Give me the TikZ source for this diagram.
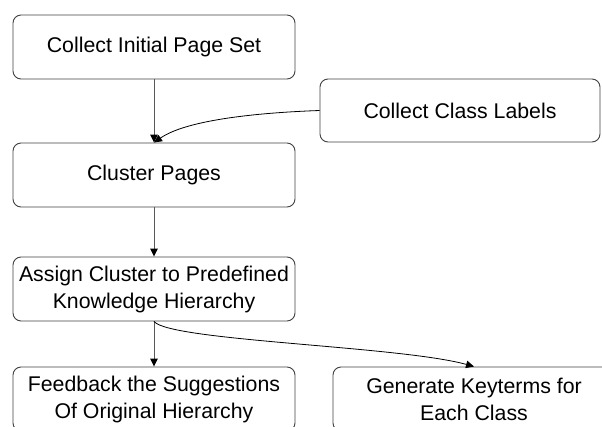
\documentclass[tikz,border=0pt]{standalone}
\usepackage{fontspec}
\setmainfont{Liberation Sans}
\usetikzlibrary{arrows.meta}
\begin{document}
\begin{tikzpicture}[x=1pt,y=1pt,
  stepbox/.style={draw=black!75, line width=0.9pt, rounded corners=8pt,
    minimum width=282pt, minimum height=64pt, inner sep=0pt,
    align=center, font=\fontsize{21.3}{27}\selectfont},
  flow/.style={draw=black!65, line width=1pt,
    -{Triangle[length=8pt,width=7.5pt,color=black]}},
  curvedflow/.style={draw=black, line width=0.8pt,
    -{Triangle[length=8pt,width=7.5pt]}}]
  \clip (0,0) rectangle (602,426);
  % process steps
  \node[stepbox] (init)     at (154,379)   {Collect Initial Page Set};
  \node[stepbox, minimum width=280pt, minimum height=63pt] (labels) at (460,315.5) {Collect Class Labels};
  \node[stepbox] (cluster)  at (154,251)   {Cluster Pages};
  \node[stepbox] (assign)   at (154,137)   {Assign Cluster to Predefined\\Knowledge Hierarchy};
  \node[stepbox] (feedback) at (154,27)    {Feedback the Suggestions\\Of Original Hierarchy};
  \node[stepbox] (generate) at (474,27)    {Generate Keyterms for\\Each Class};
  % connectors
  \draw[flow] (init.south) -- (cluster.north);
  \draw[curvedflow] (labels.west) .. controls (250,313) and (185,305) .. (cluster.north);
  \draw[flow] (cluster.south) -- (assign.north);
  \draw[flow] (assign.south) -- (feedback.north);
  \draw[curvedflow] (assign.south) .. controls (170,85) and (400,80) .. (generate.north);
\end{tikzpicture}
\end{document}
